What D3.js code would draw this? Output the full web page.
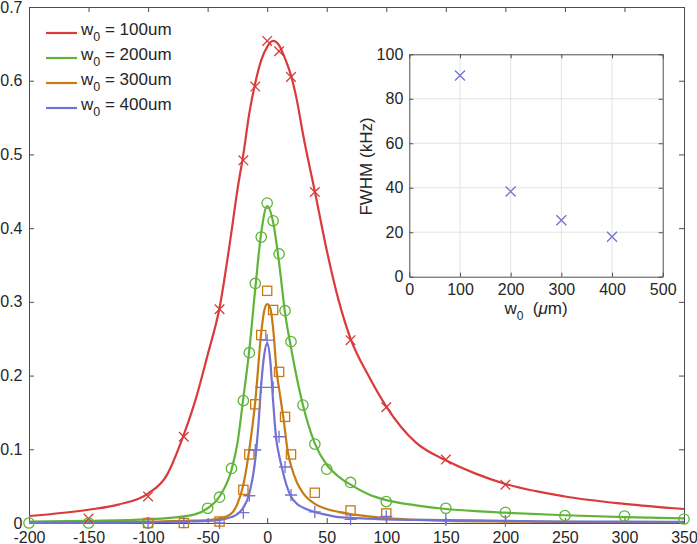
<!DOCTYPE html>
<html lang="en">
<head>
<meta charset="UTF-8">
<title>Lorentzian fits vs w0</title>
<script src="https://d3js.org/d3.v7.min.js"></script>
<style>
  body { margin: 0; background: #fff; }
  svg { display: block; font-family: "Liberation Sans", Arial, sans-serif; }
  .axis text { font-size: 16px; fill: #262626; }
  .axis path, .axis line { stroke: #4d4d4d; stroke-width: 1; }
  .fit { fill: none; stroke-width: 2.2; }
  .mk { fill: none; stroke-width: 1.3; }
</style>
</head>
<body>
<svg id="chart" width="697" height="544"></svg>
<script>
// tick values
const xTicks = [-200, -150, -100, -50, 0, 50, 100, 150, 200, 250, 300, 350];
const yTicks = [0, 0.1, 0.2, 0.3, 0.4, 0.5, 0.6, 0.7];
const insetXTicks = [0, 100, 200, 300, 400, 500];
const insetYTicks = [0, 20, 40, 60, 80, 100];

// legend
const legendNames = ["100um", "200um", "300um", "400um"];
const colors = ["#d93a3a", "#5fb43a", "#c87a14", "#7272d4"];

// measured points, w0 = 100um (x markers)
const meas100X = [-150, -100, -70, -40, -20, -10, 0, 10, 20, 40, 70, 100, 150, 200];
const meas100Y = [0.006, 0.036, 0.117, 0.290, 0.492, 0.592, 0.654, 0.640, 0.605, 0.449, 0.248, 0.157, 0.086, 0.052];
// w0 = 200um (circles)
const meas200X = [-200, -150, -100, -50, -40, -30, -20, -15, -10, -5, 0, 5, 10, 15, 20, 30, 40, 50, 70, 100, 150, 200, 250, 300, 350];
const meas200Y = [0.000, 0.000, 0.000, 0.020, 0.035, 0.074, 0.166, 0.231, 0.325, 0.388, 0.434, 0.410, 0.365, 0.288, 0.246, 0.160, 0.107, 0.073, 0.055, 0.029, 0.020, 0.0145, 0.010, 0.0095, 0.0054];
// w0 = 300um (squares)
const meas300X = [-100, -70, -40, -20, -15, -10, -5, 0, 5, 10, 15, 20, 40, 70, 100];
const meas300Y = [0.000, 0.000, 0.002, 0.045, 0.093, 0.161, 0.255, 0.315, 0.289, 0.205, 0.144, 0.093, 0.041, 0.017, 0.013];
// w0 = 400um (plus)
const meas400X = [-100, -70, -40, -20, -15, -10, -5, 0, 5, 10, 15, 20, 40, 70, 100, 150, 200];
const meas400Y = [0.000, 0.001, 0.000, 0.014, 0.037, 0.099, 0.184, 0.248, 0.184, 0.117, 0.076, 0.038, 0.015, 0.005, 0.009, 0.004, 0.003];

// fitted curves
const fit100X = [-200, -150, -125, -100, -85, -70, -60, -50, -40, -30, -25, -20, -15, -10, -5, 0, 5, 10, 15, 20, 25, 30, 40, 50, 60, 70, 85, 100, 125, 150, 175, 200, 250, 300, 350];
const fit100Y = [0.0095, 0.018, 0.025, 0.040, 0.063, 0.120, 0.168, 0.228, 0.292, 0.395, 0.452, 0.500, 0.556, 0.597, 0.628, 0.646, 0.654, 0.648, 0.630, 0.607, 0.573, 0.528, 0.450, 0.370, 0.302, 0.250, 0.200, 0.158, 0.109, 0.085, 0.067, 0.053, 0.036, 0.026, 0.019];
const fit200X = [-200, -150, -100, -70, -60, -50, -40, -30, -25, -20, -15, -10, -5, 0, 5, 10, 15, 20, 25, 30, 40, 50, 60, 70, 85, 100, 125, 150, 175, 200, 250, 300, 350];
const fit200Y = [0.002, 0.003, 0.005, 0.009, 0.012, 0.020, 0.036, 0.072, 0.108, 0.170, 0.235, 0.318, 0.394, 0.430, 0.408, 0.353, 0.285, 0.238, 0.196, 0.160, 0.108, 0.079, 0.063, 0.052, 0.039, 0.031, 0.024, 0.019, 0.016, 0.014, 0.0105, 0.008, 0.0064];
const fit300X = [-200, -150, -100, -70, -50, -40, -30, -25, -20, -15, -10, -5, -2.5, 0, 2.5, 5, 8, 10, 13.5, 17.5, 20, 25, 30, 40, 50, 60, 70, 85, 100, 150, 200, 250, 300, 350];
const fit300Y = [0.0005, 0.001, 0.0015, 0.003, 0.004, 0.006, 0.013, 0.026, 0.052, 0.100, 0.165, 0.258, 0.288, 0.297, 0.292, 0.264, 0.205, 0.182, 0.144, 0.095, 0.078, 0.055, 0.041, 0.026, 0.019, 0.015, 0.012, 0.009, 0.0065, 0.003, 0.002, 0.0015, 0.001, 0.001];
const fit400X = [-200, -150, -100, -70, -50, -40, -30, -25, -20, -15, -10, -7.5, -5, -2.5, 0, 2.5, 5, 7.5, 10, 12.5, 15, 20, 25, 30, 40, 50, 60, 70, 85, 100, 150, 200, 250, 300, 350];
const fit400Y = [0.0003, 0.0005, 0.001, 0.002, 0.003, 0.004, 0.008, 0.012, 0.021, 0.040, 0.086, 0.130, 0.188, 0.228, 0.244, 0.222, 0.165, 0.115, 0.092, 0.074, 0.058, 0.036, 0.026, 0.021, 0.015, 0.011, 0.008, 0.007, 0.006, 0.005, 0.004, 0.003, 0.002, 0.002, 0.0015];

// inset: FWHM vs w0
const insetW0 = [100, 200, 300, 400];
const insetFWHM = [90.5, 38.3, 25.4, 18.0];

const svg = d3.select("#chart");
const ink = "#262626";

// main axes
const x = d3.scaleLinear().domain([-200, 350]).range([29, 684]);
const y = d3.scaleLinear().domain([0, 0.7]).range([523, 7]);

svg.append("g").attr("class", "axis").attr("transform", "translate(0,523)")
  .call(d3.axisBottom(x).tickValues(xTicks).tickSize(-5).tickSizeOuter(0).tickPadding(8.6).tickFormat(d => String(d)));
svg.append("g").attr("class", "axis").attr("transform", "translate(0,7)")
  .call(d3.axisTop(x).tickValues(xTicks).tickSize(-5).tickSizeOuter(0).tickFormat(""));
svg.append("g").attr("class", "axis").attr("transform", "translate(29,0)")
  .call(d3.axisLeft(y).tickValues(yTicks).tickSize(-5).tickSizeOuter(0).tickPadding(6.5).tickFormat(d => d === 0 ? "0" : d3.format(".1f")(d)));
svg.append("g").attr("class", "axis").attr("transform", "translate(684,0)")
  .call(d3.axisRight(y).tickValues(yTicks).tickSize(-5).tickSizeOuter(0).tickFormat(""));

const plot = svg.append("g");
const line = d3.line().x(d => x(d[0])).y(d => y(d[1])).curve(d3.curveMonotoneX);

const fits = [[fit100X, fit100Y], [fit200X, fit200Y], [fit300X, fit300Y], [fit400X, fit400Y]];
const meas = [[meas100X, meas100Y], [meas200X, meas200Y], [meas300X, meas300Y], [meas400X, meas400Y]];
const shapes = ["cross", "circle", "square", "plus"];

function marker(g, shape, px, py, c) {
  if (shape === "cross") {
    const s = 4.8;
    g.append("path").attr("class", "mk").attr("stroke", c)
      .attr("d", `M${px - s},${py - s}L${px + s},${py + s}M${px - s},${py + s}L${px + s},${py - s}`);
  } else if (shape === "circle") {
    g.append("circle").attr("class", "mk").attr("stroke", c).attr("cx", px).attr("cy", py).attr("r", 5.2);
  } else if (shape === "square") {
    g.append("rect").attr("class", "mk").attr("stroke", c).attr("x", px - 4.6).attr("y", py - 4.6).attr("width", 9.2).attr("height", 9.2);
  } else {
    const s = 6;
    g.append("path").attr("class", "mk").attr("stroke", c)
      .attr("d", `M${px - s},${py}L${px + s},${py}M${px},${py - s}L${px},${py + s}`);
  }
}

fits.forEach(([fx, fy], i) => {
  plot.append("path").attr("class", "fit").attr("stroke", colors[i])
    .attr("d", line(fx.map((v, k) => [v, fy[k]])));
});
meas.forEach(([mx, my], i) => {
  mx.forEach((v, k) => marker(plot, shapes[i], x(v), y(my[k]), colors[i]));
});

// legend
const leg = svg.append("g");
legendNames.forEach((n, i) => {
  const ly = 33 + i * 25;
  leg.append("line").attr("x1", 46).attr("x2", 77).attr("y1", ly).attr("y2", ly)
    .attr("stroke", colors[i]).attr("stroke-width", 2.2);
  const t = leg.append("text").attr("x", 81).attr("y", ly + 1.5).attr("fill", ink).style("font-size", "17px");
  t.append("tspan").text("w");
  t.append("tspan").attr("dy", 6).style("font-size", "12.5px").text("0");
  t.append("tspan").attr("dy", -6).text(" = " + n);
});

// inset
const ix = d3.scaleLinear().domain([0, 500]).range([409.3, 662.7]);
const iy = d3.scaleLinear().domain([0, 100]).range([276.7, 54.3]);
const inset = svg.append("g");
inset.append("rect").attr("x", 409.3).attr("y", 54.3).attr("width", 253.4).attr("height", 222.4).attr("fill", "#fff");
inset.selectAll(".gx").data(insetXTicks.slice(1, -1)).join("line")
  .attr("x1", d => ix(d)).attr("x2", d => ix(d)).attr("y1", 54.3).attr("y2", 276.7)
  .attr("stroke", "#e3e3e3").attr("stroke-width", 1);
inset.selectAll(".gy").data(insetYTicks.slice(1, -1)).join("line")
  .attr("y1", d => iy(d)).attr("y2", d => iy(d)).attr("x1", 409.3).attr("x2", 662.7)
  .attr("stroke", "#e3e3e3").attr("stroke-width", 1);

inset.append("g").attr("class", "axis").attr("transform", "translate(0,276.7)")
  .call(d3.axisBottom(ix).tickValues(insetXTicks).tickSize(-4).tickSizeOuter(0).tickPadding(7));
inset.append("g").attr("class", "axis").attr("transform", "translate(0,54.3)")
  .call(d3.axisTop(ix).tickValues(insetXTicks).tickSize(-4).tickSizeOuter(0).tickFormat(""));
inset.append("g").attr("class", "axis").attr("transform", "translate(409.3,0)")
  .call(d3.axisLeft(iy).tickValues(insetYTicks).tickSize(-4).tickSizeOuter(0).tickPadding(6));
inset.append("g").attr("class", "axis").attr("transform", "translate(662.7,0)")
  .call(d3.axisRight(iy).tickValues(insetYTicks).tickSize(-4).tickSizeOuter(0).tickFormat(""));

insetW0.forEach((v, k) => {
  const px = ix(v), py = iy(insetFWHM[k]), s = 5;
  inset.append("path").attr("class", "mk").attr("stroke", colors[3])
    .attr("d", `M${px - s},${py - s}L${px + s},${py + s}M${px - s},${py + s}L${px + s},${py - s}`);
});

inset.append("text").attr("transform", "translate(372,166.5) rotate(-90)")
  .attr("text-anchor", "middle").attr("fill", ink).style("font-size", "17px").text("FWHM (kHz)");
const xl = inset.append("text").attr("x", 536).attr("y", 314).attr("text-anchor", "middle")
  .attr("fill", ink).style("font-size", "17px");
xl.append("tspan").text("w");
xl.append("tspan").attr("dy", 6).style("font-size", "12px").text("0");
xl.append("tspan").attr("dy", -6).text("\u00a0\u00a0(");
xl.append("tspan").style("font-style", "italic").text("\u03bc");
xl.append("tspan").text("m)");
</script>
</body>
</html>
